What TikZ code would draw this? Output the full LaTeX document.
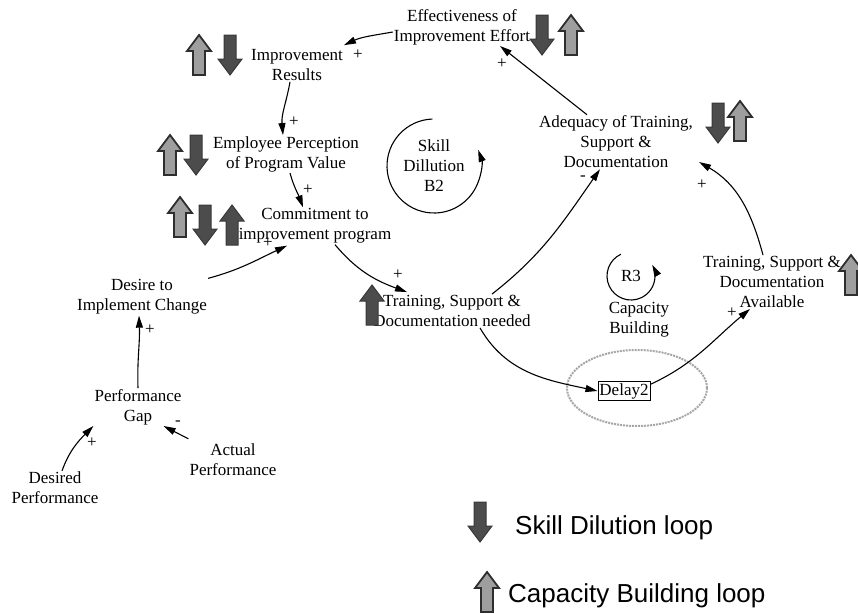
\documentclass[tikz,border=0pt]{standalone}
\usepackage{fontspec}
\setmainfont{Liberation Serif}
\newfontfamily\legendfont{Liberation Sans}
\usetikzlibrary{arrows.meta,shapes.geometric}

% block arrows: centre x, top y (measured downward), style
\newcommand\blockup[3]{%
  \path[#3] (#1,-#2) -- ({#1+12},{-#2-16}) -- ({#1+6},{-#2-16}) -- ({#1+6},{-#2-40})
    -- ({#1-6},{-#2-40}) -- ({#1-6},{-#2-16}) -- ({#1-12},{-#2-16}) -- cycle;}
\newcommand\blockdown[3]{%
  \path[#3] (#1,{-#2-40}) -- ({#1+12},{-#2-24}) -- ({#1+6},{-#2-24}) -- ({#1+6},-#2)
    -- ({#1-6},-#2) -- ({#1-6},{-#2-24}) -- ({#1-12},{-#2-24}) -- cycle;}

\tikzset{
  var/.style={align=center, font=\fontsize{17}{20}\selectfont, inner sep=1pt},
  link/.style={line width=1.1pt, -{Triangle[length=12pt,width=7pt]}},
  sgn/.style={font=\fontsize{17}{20}\selectfont, inner sep=0pt},
  lightblk/.style={fill=black!38, draw=black!82, line width=1.8pt},
  darkblk/.style={fill=black!70, draw=black!78, line width=1pt},
  legend/.style={font=\legendfont\fontsize{26}{30}\selectfont, anchor=west, inner sep=0pt},
}

\begin{document}
\begin{tikzpicture}[x=1pt,y=1pt]
\useasboundingbox (0,0) rectangle (858,-613);

% variables
\node[var] (eff) at (462,-27) {Effectiveness of\\Improvement Effort};
\node[var] (res) at (297,-65) {Improvement\\Results};
\node[var] (emp) at (286,-154) {Employee Perception\\of Program Value};
\node[var] (com) at (315,-226) {Commitment to\\improvement program};
\node[var] (des) at (142,-297) {Desire to\\Implement Change};
\node[var] (gap) at (138,-407) {Performance\\Gap};
\node[var] (dp) at (55,-488) {Desired\\Performance};
\node[var] (ap) at (233,-460) {Actual\\Performance};
\node[var] (tsn) at (452,-311) {Training, Support \&\\Documentation needed};
\node[var] (adq) at (616,-142) {Adequacy of Training,\\Support \&\\Documentation};
\node[var] (tsa) at (772,-282) {Training, Support \&\\Documentation\\Available};
\node[ellipse, draw=black!35, line width=2pt, densely dotted,
      minimum width=140pt, minimum height=76pt] (ring) at (637,-388) {};
\node[var, draw, line width=0.9pt, inner sep=1.5pt, fill=white] (dly) at (624,-391) {Delay2};

% loop markers
\node[var] (b2) at (434,-166) {Skill\\Dillution\\B2};
\draw[link] ([shift={(92:47)}]b2.center) arc[start angle=92, end angle=380, radius=47];
\node[var] (r3) at (631,-276) {R3};
\draw[link] ([shift={(115:24)}]r3.center) arc[start angle=115, end angle=388, radius=24];
\node[var] (cap) at (639,-320) {Capacity\\Building};

% causal links
\draw[link] ([yshift=-5]eff.west) to[out=190,in=25] ([yshift=3]res.north east);
\draw[link] ([xshift=-7]res.south) to[out=-100,in=95] ([xshift=-3]emp.north);
\draw[link] ([xshift=4]emp.south) to[out=-75,in=110] ([xshift=-12]com.north);
\draw[link] (des.north east) to[out=15,in=205] ([xshift=-28,yshift=-1]com.south);
\draw[link] (gap.north) to[out=92,in=-88] ([xshift=-3]des.south);
\draw[link] ([xshift=7]dp.north) to[out=70,in=225] (gap.south west);
\draw[link] ([yshift=4]ap.north west) -- ([xshift=-19]gap.south east);
\draw[link] ([xshift=20]com.south) to[out=-50,in=160] ([xshift=-45,yshift=2]tsn.north);
\draw[link] ([xshift=40]tsn.north) to[out=38,in=235] ([xshift=-16]adq.south);
\draw[link] ([xshift=28]tsn.south) to[out=-60,in=168] (dly.west);
\draw[link] ([yshift=-3]dly.north east) to[out=25,in=220] ([xshift=-22]tsa.south);
\draw[link] ([xshift=-9]tsa.north) to[out=105,in=-30] ([xshift=5,yshift=-20]adq.east);
\draw[link] ([xshift=-29]adq.north) -- ([xshift=38]eff.south);

% polarity signs
\node[sgn] (s1) at (358,-55) {+};
\node[sgn] (s2) at (294,-122) {+};
\node[sgn] (s3) at (308,-190) {+};
\node[sgn] (s4) at (268,-243) {+};
\node[sgn] (s5) at (150,-330) {+};
\node[sgn] (s6) at (92,-443) {+};
\node[sgn] (s7) at (178,-423) {-};
\node[sgn] (s8) at (398,-275) {+};
\node[sgn] (s9) at (583,-178) {-};
\node[sgn] (s10) at (732,-313) {+};
\node[sgn] (s11) at (702,-185) {+};
\node[sgn] (s12) at (502,-64) {+};

% loop-direction block arrows
\blockup{199}{35}{lightblk} \blockdown{230}{35}{darkblk}
\blockup{170}{135}{lightblk} \blockdown{196}{135}{darkblk}
\blockup{180}{197}{lightblk} \blockdown{205}{205}{darkblk} \blockup{232}{205}{darkblk}
\blockup{372}{285}{darkblk}
\blockdown{542}{15}{darkblk} \blockup{571}{15}{lightblk}
\blockdown{718}{103}{darkblk} \blockup{740}{101}{lightblk}
\blockup{851}{255}{lightblk}

% legend
\blockdown{480}{502}{darkblk}
\node[legend] (lg1) at (515,-528) {Skill Dilution loop};
\blockup{487}{572}{lightblk}
\node[legend] (lg2) at (508,-596) {Capacity Building loop};
\end{tikzpicture}
\end{document}
